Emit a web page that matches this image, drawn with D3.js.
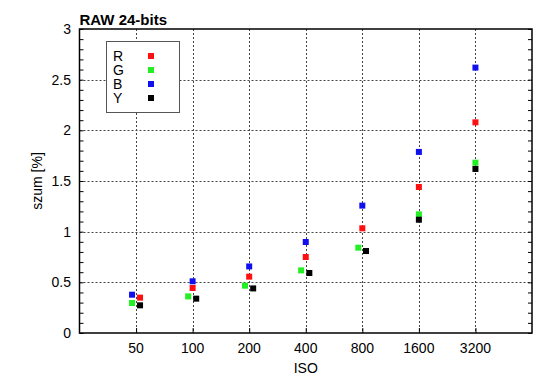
<!DOCTYPE html>
<html>
<head>
<meta charset="utf-8">
<script src="https://cdn.jsdelivr.net/npm/d3@7"></script>
<style>
body { margin: 0; background: #fff; }
svg { display: block; font-family: "Liberation Sans", Arial, sans-serif; }
</style>
</head>
<body>
<svg id="chart" width="550" height="389"></svg>
<script>
// ISO categories on the axis
var isoTicks = [50, 100, 200, 400, 800, 1600, 3200];
var yTicks = [0, 0.5, 1, 1.5, 2, 2.5, 3];

// per-channel ISO (as plotted) and noise [%]
var isoR = [52.5, 100, 200, 400, 800, 1600, 3200];
var valR = [0.349, 0.444, 0.556, 0.75, 1.033, 1.441, 2.079];
var isoG = [47.6, 94.7, 190, 378, 762, 1600, 3200];
var valG = [0.296, 0.361, 0.467, 0.618, 0.842, 1.171, 1.681];
var isoB = [47.6, 100, 200, 400, 800, 1600, 3200];
var valB = [0.378, 0.51, 0.657, 0.898, 1.257, 1.787, 2.619];
var isoY = [52.5, 104.5, 210, 418, 837, 1600, 3200];
var valY = [0.273, 0.339, 0.44, 0.592, 0.809, 1.118, 1.619];

var seriesNames = ["R", "G", "B", "Y"];
var seriesColors = ["#ff1010", "#22f022", "#1010ee", "#000000"];

var series = [
	{name: "R", iso: isoR, val: valR},
	{name: "G", iso: isoG, val: valG},
	{name: "B", iso: isoB, val: valB},
	{name: "Y", iso: isoY, val: valY}
];

var svg = d3.select("#chart");
var plotL = 79.5, plotR = 532, plotT = 29, plotB = 333;

var x = d3.scaleLog().base(2).domain([25, 6400]).range([plotL, plotR]);
var y = d3.scaleLinear().domain([0, 3]).range([plotB, plotT]);
var color = d3.scaleOrdinal().domain(seriesNames).range(seriesColors);

// grid
var grid = svg.append("g").attr("stroke", "#444").attr("stroke-width", 1)
	.attr("stroke-dasharray", "2,2");
grid.selectAll(".gx").data(isoTicks).enter().append("line")
	.attr("x1", function(d){ return Math.round(x(d)) + 0.5; })
	.attr("x2", function(d){ return Math.round(x(d)) + 0.5; })
	.attr("y1", plotT).attr("y2", plotB);
grid.selectAll(".gy").data([0.5, 1, 1.5, 2, 2.5]).enter().append("line")
	.attr("y1", function(d){ return Math.round(y(d)) + 0.5; })
	.attr("y2", function(d){ return Math.round(y(d)) + 0.5; })
	.attr("x1", plotL).attr("x2", plotR);

// axes (ticks pointing inwards)
var minor = d3.range(0, 3.001, 0.1);
svg.append("g").attr("transform", "translate(" + plotL + ",0)")
	.call(d3.axisRight(y).tickValues(minor).tickSize(4).tickFormat(""))
	.call(function(g){ g.select(".domain").remove(); });
svg.append("g").attr("transform", "translate(" + plotR + ",0)")
	.call(d3.axisLeft(y).tickValues(minor).tickSize(4).tickFormat(""))
	.call(function(g){ g.select(".domain").remove(); });
svg.append("g").attr("transform", "translate(0," + plotB + ")")
	.call(d3.axisTop(x).tickValues(isoTicks).tickSize(5).tickFormat(""))
	.call(function(g){ g.select(".domain").remove(); });

// tick labels
svg.append("g").selectAll("text").data(yTicks).enter().append("text")
	.attr("x", 71).attr("y", function(d){ return y(d) + 5; })
	.attr("text-anchor", "end").attr("font-size", 14)
	.text(function(d){ return d; });
svg.append("g").selectAll("text").data(isoTicks).enter().append("text")
	.attr("x", function(d){ return x(d); }).attr("y", 353)
	.attr("text-anchor", "middle").attr("font-size", 14)
	.text(function(d){ return d; });

// frame
svg.append("rect").attr("x", plotL).attr("y", plotT)
	.attr("width", plotR - plotL).attr("height", plotB - plotT)
	.attr("fill", "none").attr("stroke", "#000").attr("stroke-width", 1.5);

// labels
svg.append("text").attr("x", plotL).attr("y", 25)
	.attr("font-size", 15).attr("font-weight", "bold").text("RAW 24-bits");
svg.append("text").attr("x", (plotL + plotR) / 2).attr("y", 373)
	.attr("text-anchor", "middle").attr("font-size", 14).text("ISO");
svg.append("text").attr("transform", "translate(42,181) rotate(-90)")
	.attr("text-anchor", "middle").attr("font-size", 14).text("szum [%]");

// legend
var lg = svg.append("g");
lg.append("rect").attr("x", 106.5).attr("y", 41.5).attr("width", 73).attr("height", 71)
	.attr("fill", "#fff").attr("stroke", "#555").attr("stroke-width", 1);
var items = lg.selectAll(".item").data(seriesNames).enter().append("g")
	.attr("transform", function(d, i){ return "translate(0," + (56 + i * 14) + ")"; });
items.append("text").attr("x", 113).attr("y", 5).attr("font-size", 14)
	.text(function(d){ return d; });
items.append("rect").attr("x", 148).attr("y", -3).attr("width", 6).attr("height", 6)
	.attr("fill", function(d){ return color(d); });

// points
series.forEach(function(s){
	var pts = s.iso.map(function(v, i){ return {iso: v, val: s.val[i]}; });
	svg.append("g").selectAll("rect").data(pts).enter().append("rect")
		.attr("x", function(d){ return x(d.iso) - 3; })
		.attr("y", function(d){ return y(d.val) - 3; })
		.attr("width", 6).attr("height", 6)
		.attr("fill", color(s.name));
});
</script>
</body>
</html>
